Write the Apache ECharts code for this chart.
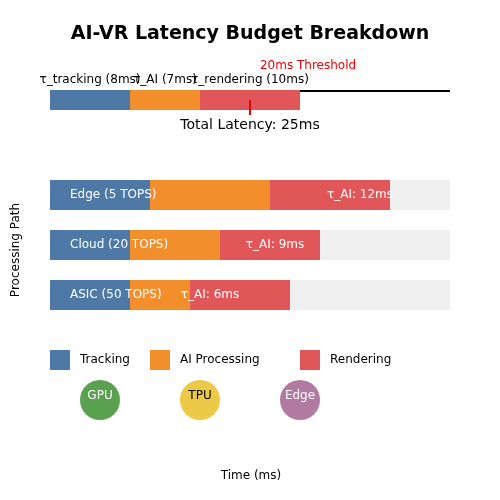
<!DOCTYPE html><html><head><meta charset="utf-8">
<script src="https://cdn.jsdelivr.net/npm/echarts@6/dist/echarts.min.js"></script>
<style>body{margin:0}#c{width:500px;height:500px}</style></head><body><div id="c"></div>
<script>
const paths=['ASIC (50 TOPS)','Cloud (20 TOPS)','Edge (5 TOPS)'];
const tracking=[8,8,10];
const aiProc=[6,9,12];
const rendering=[10,10,12];
const budget=[8,7,10];
const budgetLabels=['τ_tracking (8ms)','τ_AI (7ms)','τ_rendering (10ms)'];
const threshold=20;
const maxTime=40;
const C=['#4e79a7','#f28e2b','#e15759'];
const F='DejaVu Sans';
const chart=echarts.init(document.getElementById('c'));
const stackStart=(arr,i)=>arr.slice(0,i).reduce((a,b)=>a+b,0);
chart.setOption({
 animation:false,
 title:{text:'AI-VR Latency Budget Breakdown',left:'center',top:20,textStyle:{fontFamily:F,fontSize:19,fontWeight:'bold',color:'#000'}},
 grid:[{left:50,right:50,top:90,height:20},{left:50,right:50,top:170,height:150}],
 xAxis:[{gridIndex:0,type:'value',min:0,max:maxTime,show:false},{gridIndex:1,type:'value',min:0,max:maxTime,show:false}],
 yAxis:[{gridIndex:0,type:'category',data:['b'],show:false},
  {gridIndex:1,type:'category',data:paths,show:false}],
 series:[
  {type:'bar',xAxisIndex:0,yAxisIndex:0,data:[maxTime],barWidth:2,itemStyle:{color:'#000'},barGap:'-100%',z:1},
  ...budget.map((v,i)=>({type:'bar',stack:'top',xAxisIndex:0,yAxisIndex:0,barWidth:20,data:[v],itemStyle:{color:C[i]},z:2})),
  {type:'bar',xAxisIndex:1,yAxisIndex:1,data:paths.map(()=>maxTime),barWidth:30,barGap:'-100%',itemStyle:{color:'#f0f0f0'},z:1},
  {type:'bar',stack:'p',xAxisIndex:1,yAxisIndex:1,barWidth:30,data:tracking,itemStyle:{color:C[0]},z:2},
  {type:'bar',stack:'p',xAxisIndex:1,yAxisIndex:1,barWidth:30,data:aiProc,itemStyle:{color:C[1]},z:2},
  {type:'bar',stack:'p',xAxisIndex:1,yAxisIndex:1,barWidth:30,data:rendering,itemStyle:{color:C[2]},z:2}
 ]
});
const g=[];
const px=(gi,x,y)=>chart.convertToPixel({gridIndex:gi},[x,y]);
budget.forEach((v,i)=>{const p=px(0,stackStart(budget,i)+v/2,'b');
 g.push({type:'text',x:p[0],y:p[1]-20,style:{text:budgetLabels[i],font:'12px '+F,fill:'#000',align:'center',verticalAlign:'middle'},z:10});});
const th=px(0,threshold,'b');
g.push({type:'line',shape:{x1:th[0],y1:th[1],x2:th[0],y2:th[1]+15},style:{stroke:'#e00',lineWidth:2},z:10});
g.push({type:'text',x:th[0]+58,y:th[1]-34,style:{text:'20ms Threshold',font:'12px '+F,fill:'#e00',align:'center',verticalAlign:'middle'},z:10});
g.push({type:'text',x:250,y:th[1]+25,style:{text:'Total Latency: 25ms',font:'14px '+F,fill:'#000',align:'center',verticalAlign:'middle'},z:10});
paths.forEach((n,i)=>{const p=px(1,0,n);
 g.push({type:'text',x:p[0]+20,y:p[1],style:{text:n,font:'12px '+F,fill:'#fff',verticalAlign:'middle'},z:10});
 const q=px(1,tracking[i]+aiProc[i]/2+(aiProc[i]-3)*5/3/1,n);
 g.push({type:'text',x:q[0],y:p[1],style:{text:'τ_AI: '+aiProc[i]+'ms',font:'12px '+F,fill:'#fff',align:'center',verticalAlign:'middle'},z:10});});
[['Tracking',50],['AI Processing',150],['Rendering',300]].forEach((d,i)=>{
 g.push({type:'rect',shape:{x:d[1],y:350,width:20,height:20},style:{fill:C[i]}});
 g.push({type:'text',x:d[1]+30,y:360,style:{text:d[0],font:'12px '+F,fill:'#000',verticalAlign:'middle'}});});
[['GPU',100,'#59a14f','#fff'],['TPU',200,'#edc948','#000'],['Edge',300,'#b07aa1','#fff']].forEach(d=>{
 g.push({type:'circle',shape:{cx:d[1],cy:400,r:20},style:{fill:d[2]}});
 g.push({type:'text',x:d[1],y:396,style:{text:d[0],font:'12px '+F,fill:d[3],align:'center',verticalAlign:'middle'}});});
g.push({type:'text',x:16,y:250,rotation:Math.PI/2,style:{text:'Processing Path',font:'12px '+F,fill:'#000',align:'center',verticalAlign:'middle'}});
g.push({type:'text',x:251,y:476,style:{text:'Time (ms)',font:'12px '+F,fill:'#000',align:'center',verticalAlign:'middle'}});
chart.setOption({graphic:g});
</script></body></html>
